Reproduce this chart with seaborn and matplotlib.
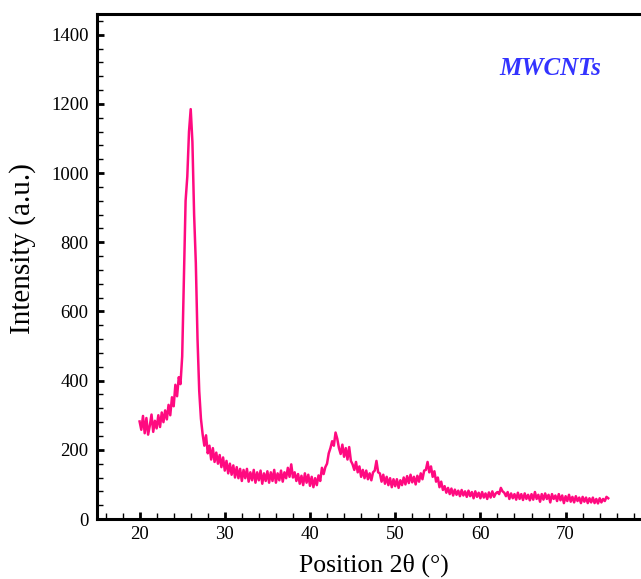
import numpy as np
import pandas as pd
import seaborn as sns
import matplotlib.pyplot as plt
from matplotlib.ticker import MultipleLocator

# XRD pattern of MWCNTs (step 0.2 deg)
two_theta = [
    20.0, 20.2, 20.4, 20.6, 20.8, 21.0, 21.2, 21.4, 21.6, 21.8,
    22.0, 22.2, 22.4, 22.6, 22.8, 23.0, 23.2, 23.4, 23.6, 23.8,
    24.0, 24.2, 24.4, 24.6, 24.8, 25.0, 25.2, 25.4, 25.6, 25.8,
    26.0, 26.2, 26.4, 26.6, 26.8, 27.0, 27.2, 27.4, 27.6, 27.8,
    28.0, 28.2, 28.4, 28.6, 28.8, 29.0, 29.2, 29.4, 29.6, 29.8,
    30.0, 30.2, 30.4, 30.6, 30.8, 31.0, 31.2, 31.4, 31.6, 31.8,
    32.0, 32.2, 32.4, 32.6, 32.8, 33.0, 33.2, 33.4, 33.6, 33.8,
    34.0, 34.2, 34.4, 34.6, 34.8, 35.0, 35.2, 35.4, 35.6, 35.8,
    36.0, 36.2, 36.4, 36.6, 36.8, 37.0, 37.2, 37.4, 37.6, 37.8,
    38.0, 38.2, 38.4, 38.6, 38.8, 39.0, 39.2, 39.4, 39.6, 39.8,
    40.0, 40.2, 40.4, 40.6, 40.8, 41.0, 41.2, 41.4, 41.6, 41.8,
    42.0, 42.2, 42.4, 42.6, 42.8, 43.0, 43.2, 43.4, 43.6, 43.8,
    44.0, 44.2, 44.4, 44.6, 44.8, 45.0, 45.2, 45.4, 45.6, 45.8,
    46.0, 46.2, 46.4, 46.6, 46.8, 47.0, 47.2, 47.4, 47.6, 47.8,
    48.0, 48.2, 48.4, 48.6, 48.8, 49.0, 49.2, 49.4, 49.6, 49.8,
    50.0, 50.2, 50.4, 50.6, 50.8, 51.0, 51.2, 51.4, 51.6, 51.8,
    52.0, 52.2, 52.4, 52.6, 52.8, 53.0, 53.2, 53.4, 53.6, 53.8,
    54.0, 54.2, 54.4, 54.6, 54.8, 55.0, 55.2, 55.4, 55.6, 55.8,
    56.0, 56.2, 56.4, 56.6, 56.8, 57.0, 57.2, 57.4, 57.6, 57.8,
    58.0, 58.2, 58.4, 58.6, 58.8, 59.0, 59.2, 59.4, 59.6, 59.8,
    60.0, 60.2, 60.4, 60.6, 60.8, 61.0, 61.2, 61.4, 61.6, 61.8,
    62.0, 62.2, 62.4, 62.6, 62.8, 63.0, 63.2, 63.4, 63.6, 63.8,
    64.0, 64.2, 64.4, 64.6, 64.8, 65.0, 65.2, 65.4, 65.6, 65.8,
    66.0, 66.2, 66.4, 66.6, 66.8, 67.0, 67.2, 67.4, 67.6, 67.8,
    68.0, 68.2, 68.4, 68.6, 68.8, 69.0, 69.2, 69.4, 69.6, 69.8,
    70.0, 70.2, 70.4, 70.6, 70.8, 71.0, 71.2, 71.4, 71.6, 71.8,
    72.0, 72.2, 72.4, 72.6, 72.8, 73.0, 73.2, 73.4, 73.6, 73.8,
    74.0, 74.2, 74.4, 74.6, 74.8, 75.0,
]

intensity = [
    282, 258, 298, 248, 292, 244, 270, 302, 252, 284,
    262, 300, 266, 308, 280, 314, 288, 330, 300, 352,
    326, 388, 355, 410, 390, 470, 700, 920, 990, 1120,
    1185, 1090, 880, 740, 520, 370, 290, 245, 212, 242,
    190, 212, 172, 205, 165, 192, 160, 185, 150, 178,
    140, 168, 132, 160, 128, 155, 120, 150, 118, 145,
    110, 142, 118, 145, 108, 135, 112, 142, 105, 135,
    112, 140, 102, 132, 110, 138, 105, 135, 110, 142,
    105, 132, 112, 140, 108, 135, 118, 148, 122, 158,
    120, 135, 110, 130, 102, 125, 98, 132, 105, 128,
    96, 122, 92, 118, 98, 126, 110, 148, 130, 150,
    160, 190, 205, 225, 212, 250, 232, 205, 188, 215,
    180, 205, 172, 208, 168, 158, 142, 165, 135, 152,
    122, 142, 118, 140, 115, 132, 112, 135, 140, 168,
    135, 132, 108, 128, 102, 122, 98, 118, 92, 115,
    95, 115, 90, 112, 98, 120, 100, 124, 104, 128,
    106, 122, 100, 125, 108, 132, 115, 140, 142, 165,
    135, 152, 122, 138, 108, 120, 92, 108, 84, 95,
    76, 90, 72, 88, 68, 85, 70, 82, 66, 84,
    68, 80, 64, 82, 66, 78, 60, 80, 64, 76,
    60, 78, 62, 74, 58, 77, 62, 80, 64, 74,
    78, 72, 90, 80, 76, 66, 78, 58, 74, 60,
    72, 56, 76, 58, 72, 55, 74, 58, 70, 54,
    72, 56, 78, 58, 70, 50, 72, 56, 74, 58,
    70, 48, 72, 58, 68, 52, 72, 54, 68, 46,
    66, 52, 70, 50, 64, 48, 66, 52, 62, 46,
    64, 50, 62, 46, 60, 48, 62, 46, 58, 45,
    60, 48, 58, 52, 64, 60,
]

x_tick_values = [20, 30, 40, 50, 60, 70]

xrd = pd.DataFrame({"two_theta": two_theta, "intensity": intensity})

plt.rcParams["font.family"] = ["Liberation Serif", "DejaVu Serif"]

fig = plt.figure(figsize=(6.41, 5.79), dpi=100)
# right edge of the frame runs past the picture, as in the reference
ax = fig.add_axes([0.1513, 0.1036, 0.864, 0.8722])

sns.lineplot(data=xrd, x="two_theta", y="intensity", sort=False,
             estimator=None, color="#ff0a80", linewidth=1.8, ax=ax)

ax.set_xlim(15, 80)
ax.set_ylim(0, 1460)
ax.set_xticks(x_tick_values)
ax.xaxis.set_minor_locator(MultipleLocator(2))
ax.yaxis.set_major_locator(MultipleLocator(200))
ax.yaxis.set_minor_locator(MultipleLocator(40))
ax.tick_params(which="both", direction="in", top=False, right=False,
               labelsize=13.5)
ax.tick_params(axis="x", pad=5)
ax.tick_params(axis="y", pad=6)
ax.tick_params(which="major", length=5, width=2)
ax.tick_params(which="minor", length=4, width=1)

for side in ["left", "bottom", "top"]:
    ax.spines[side].set_linewidth(2.2)
ax.spines["right"].set_visible(False)

ax.set_xlabel("Position 2θ (°)", fontsize=18.5, labelpad=8)
ax.set_ylabel("Intensity (a.u.)", fontsize=21)
ax.yaxis.set_label_coords(-0.11, 0.535)

ax.text(0.818, 0.893, "MWCNTs", transform=ax.transAxes, ha="center",
        va="center", fontsize=18, fontweight="bold", fontstyle="italic",
        color="#3333ff")

fig.savefig("out.png", dpi=100)
